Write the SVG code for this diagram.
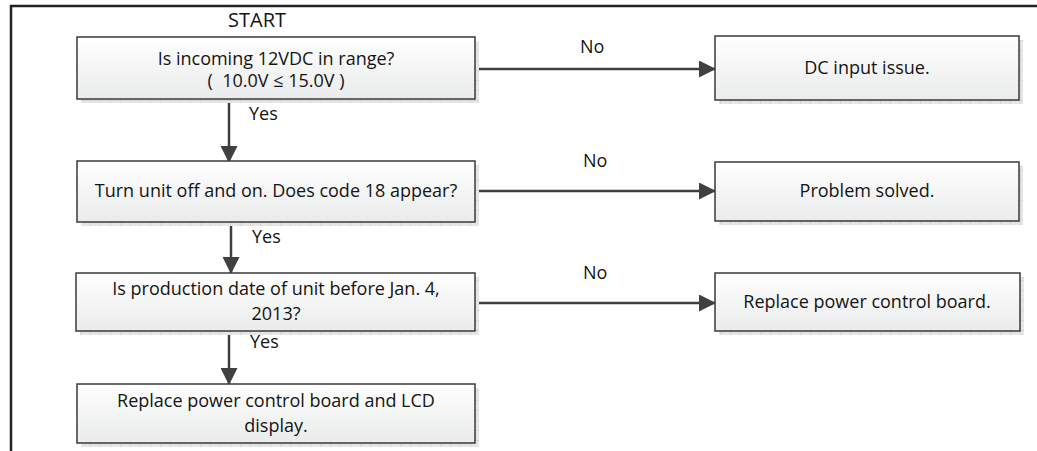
<svg xmlns="http://www.w3.org/2000/svg" width="1037" height="451" viewBox="0 0 1037 451">
<style>
.box{fill:url(#g);stroke:#3a3a3a;stroke-width:1.5}
.sh{fill:url(#grid)}
.t{font-family:"Open Sans","Liberation Sans",sans-serif;font-size:18px;fill:#141414;text-anchor:middle;white-space:pre}
.l{font-family:"Open Sans","Liberation Sans",sans-serif;font-size:18px;fill:#141414;white-space:pre}
.c{stroke:#404040;stroke-width:2.5;fill:none;marker-end:url(#ah)}
</style>
<defs>
<linearGradient id="g" x1="0" y1="0" x2="0" y2="1">
<stop offset="0" stop-color="#ffffff"/>
<stop offset="1" stop-color="#eaebec"/>
</linearGradient>
<pattern id="grid" patternUnits="userSpaceOnUse" width="10" height="10">
<rect width="10" height="10" fill="#e6e6e6"/>
<path d="M0,0.5 H10 M0.5,0 V10" stroke="#d6d6d6" stroke-width="1"/>
</pattern>
<marker id="ah" markerUnits="userSpaceOnUse" markerWidth="17" markerHeight="17" viewBox="0 0 17 17" refX="16" refY="8.5" orient="auto">
<path d="M0,0 L17,8.5 L0,17 Z" fill="#404040"/>
</marker>
</defs>
<rect width="1037" height="451" fill="#ffffff"/>
<g id="frame">
<path d="M11,451 V6 H1037" fill="none" stroke="#222" stroke-width="2.5"/>
</g>
<g id="start"><text class="t" x="257" y="27" style="font-size:20px">START</text></g>
<g id="connectors">
<line class="c" x1="229" y1="100" x2="229" y2="162"/>
<line class="c" x1="231" y1="223" x2="231" y2="273"/>
<line class="c" x1="229" y1="332" x2="229" y2="384"/>
<line class="c" x1="476" y1="69" x2="715" y2="69"/>
<line class="c" x1="476" y1="191" x2="715" y2="191"/>
<line class="c" x1="476" y1="303" x2="715" y2="303"/>
<text class="l" x="249" y="120">Yes</text>
<text class="l" x="252" y="243">Yes</text>
<text class="l" x="250" y="348">Yes</text>
<text class="l" x="580" y="53">No</text>
<text class="l" x="583" y="167">No</text>
<text class="l" x="583" y="279">No</text>
</g>
<g id="n1">
<rect class="sh" x="81" y="41" width="398" height="62"/>
<rect class="box" x="77" y="37" width="398" height="62"/>
<text class="t" x="276" y="65">Is incoming 12VDC in range?</text>
<text class="t" x="276" y="87">(  10.0V ≤ 15.0V )</text>
</g>
<g id="n2">
<rect class="sh" x="81" y="165" width="398" height="61"/>
<rect class="box" x="77" y="161" width="398" height="61"/>
<text class="t" x="276" y="197">Turn unit off and on. Does code 18 appear?</text>
</g>
<g id="n3">
<rect class="sh" x="80" y="277" width="399" height="58"/>
<rect class="box" x="76" y="273" width="399" height="58"/>
<text class="t" x="276" y="295">Is production date of unit before Jan. 4,</text>
<text class="t" x="276" y="320">2013?</text>
</g>
<g id="n4">
<rect class="sh" x="81" y="388" width="398" height="59"/>
<rect class="box" x="77" y="384" width="398" height="59"/>
<text class="t" x="276" y="407">Replace power control board and LCD</text>
<text class="t" x="276" y="432">display.</text>
</g>
<g id="r1">
<rect class="sh" x="719" y="40" width="304" height="64"/>
<rect class="box" x="715" y="36" width="304" height="64"/>
<text class="t" x="867" y="74">DC input issue.</text>
</g>
<g id="r2">
<rect class="sh" x="719" y="166" width="304" height="59"/>
<rect class="box" x="715" y="162" width="304" height="59"/>
<text class="t" x="867" y="197">Problem solved.</text>
</g>
<g id="r3">
<rect class="sh" x="719" y="277" width="305" height="58"/>
<rect class="box" x="715" y="273" width="305" height="58"/>
<text class="t" x="867" y="308">Replace power control board.</text>
</g>
</svg>
